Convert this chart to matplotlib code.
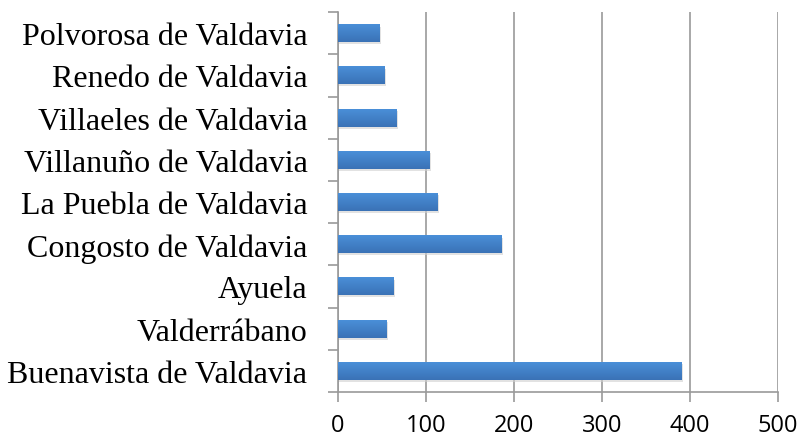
import matplotlib
matplotlib.use("Agg")
import matplotlib.pyplot as plt
import numpy as np
from matplotlib.ticker import FixedLocator
from matplotlib.colors import LinearSegmentedColormap

categories = ["Buenavista de Valdavia", "Valderrábano", "Ayuela", "Congosto de Valdavia",
              "La Puebla de Valdavia", "Villanuño de Valdavia", "Villaeles de Valdavia",
              "Renedo de Valdavia", "Polvorosa de Valdavia"]
values = [390, 55, 63, 186, 113, 104, 67, 53, 47]
xticks = [0, 100, 200, 300, 400, 500]

fig = plt.figure(figsize=(8, 4.39), dpi=100)
ax = fig.add_axes([0.4225, 0.1048, 0.55, 0.8652])

y = np.arange(len(categories))
h = 0.42
# subtle shadow
ax.barh(y - 0.05, values, height=h, left=1.5, color="#d0d0d0", alpha=0.6, zorder=2)
bars = ax.barh(y, values, height=h, color="#4585cf", edgecolor="none", zorder=3)

cmap = LinearSegmentedColormap.from_list("g", ["#3a72b6", "#4a8fd8"])
grad = np.linspace(0, 1, 64).reshape(-1, 1)
for b in bars:
    x0, y0 = b.get_x(), b.get_y()
    w, hh = b.get_width(), b.get_height()
    ax.imshow(grad, cmap=cmap, aspect="auto", origin="lower",
              extent=[x0, x0 + w, y0, y0 + hh], zorder=4, interpolation="bicubic")

ax.set_xlim(0, 500)
ax.set_ylim(-0.5, len(categories) - 0.5)
ax.set_xticks(xticks)
ax.set_xticklabels([str(t) for t in xticks], fontfamily="Open Sans", fontsize=17)
ax.set_yticks(y)
ax.set_yticklabels(categories, fontfamily="Liberation Serif", fontsize=23)
ax.yaxis.set_minor_locator(FixedLocator(np.arange(-0.5, len(categories), 1.0)))

ax.tick_params(axis="y", which="major", length=0, pad=22)
ax.tick_params(axis="y", which="minor", length=7, width=1.2, color="#9a9a9a", direction="out")
ax.tick_params(axis="x", which="major", length=7, width=1.2, color="#9a9a9a", direction="out", pad=8)

ax.grid(axis="x", color="#9a9a9a", linewidth=1.2, zorder=0)
ax.set_axisbelow(True)
for s in ["top", "right"]:
    ax.spines[s].set_visible(False)
for s in ["left", "bottom"]:
    ax.spines[s].set_color("#9a9a9a")
    ax.spines[s].set_linewidth(1.2)

fig.savefig("out.png", dpi=100)
